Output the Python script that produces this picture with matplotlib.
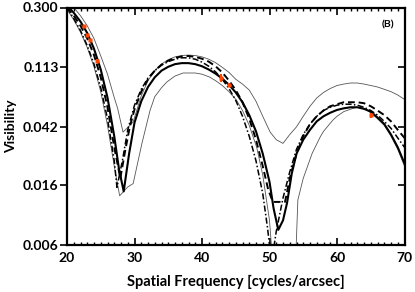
import numpy as np
import matplotlib
matplotlib.use("Agg")
import matplotlib.pyplot as plt
from matplotlib.ticker import FixedLocator, NullLocator, MultipleLocator

# model curves
x_solid = [20, 21, 22, 23, 24, 25, 26, 27, 27.7, 28.4, 29.2, 30, 31, 32, 33, 34, 35, 36, 37, 38,
           39, 40, 41, 42, 43, 44, 45, 46, 47, 48, 49, 50, 50.6, 51.3, 52, 52.6, 53.3, 54, 55, 56,
           57, 58, 59, 60, 61, 62, 63, 64, 65, 66, 67, 68, 69, 70]
v_solid = [0.31, 0.275, 0.238, 0.197, 0.152, 0.108, 0.068, 0.036, 0.021, 0.0145, 0.027, 0.045,
           0.064, 0.081, 0.095, 0.106, 0.113, 0.118, 0.120, 0.120, 0.118, 0.114, 0.108, 0.101,
           0.093, 0.084, 0.074, 0.063, 0.051, 0.039, 0.027, 0.017, 0.011, 0.0077, 0.009, 0.012,
           0.0195, 0.027, 0.034, 0.040, 0.046, 0.050, 0.053, 0.0555, 0.057, 0.058, 0.058, 0.0565,
           0.054, 0.049, 0.044, 0.037, 0.030, 0.023]

x_dash = [20, 21, 22, 23, 24, 25, 26, 27, 27.9, 28.6, 29.3, 30, 31, 32, 33, 34, 35, 36, 37, 38,
          39, 40, 41, 42, 43, 44, 45, 46, 47, 48, 49, 49.8, 50.5, 52.3, 53, 54, 55, 56, 57, 58,
          59, 60, 61, 62, 63, 64, 65, 66, 67, 68, 69, 70]
v_dash = [0.30, 0.262, 0.222, 0.18, 0.137, 0.095, 0.058, 0.030, 0.018, 0.028, 0.042, 0.056,
          0.075, 0.092, 0.106, 0.117, 0.125, 0.131, 0.134, 0.135, 0.133, 0.129, 0.123, 0.114,
          0.103, 0.090, 0.077, 0.063, 0.048, 0.034, 0.022, 0.015, 0.0122, 0.0122, 0.018, 0.027,
          0.036, 0.044, 0.050, 0.055, 0.059, 0.061, 0.063, 0.063, 0.063, 0.062, 0.059, 0.055,
          0.051, 0.046, 0.040, 0.035]

x_dd = [20, 21, 22, 23, 24, 25, 26, 27, 27.4, 28.2, 29, 30, 31, 32, 33, 34, 35, 36, 37, 38, 39,
        40, 41, 42, 43, 44, 45, 46, 47, 48, 49, 49.7, 50.3, 51, 52, 53, 54, 55, 56, 57, 58, 59,
        60, 61, 62, 63, 64, 65, 66, 67, 68, 69, 70]
v_dd = [0.30, 0.25, 0.205, 0.16, 0.118, 0.08, 0.048, 0.024, 0.0155, 0.024, 0.040, 0.060, 0.078,
        0.094, 0.106, 0.116, 0.123, 0.128, 0.131, 0.131, 0.128, 0.122, 0.114, 0.104, 0.092,
        0.079, 0.065, 0.050, 0.036, 0.024, 0.014, 0.008, 0.0045, 0.0075, 0.013, 0.020, 0.029,
        0.037, 0.044, 0.050, 0.055, 0.058, 0.060, 0.061, 0.061, 0.060, 0.058, 0.055, 0.051,
        0.046, 0.041, 0.035, 0.030]

# thin envelope curves
x_up = [20, 21, 22, 23, 24, 25, 26, 27, 27.5, 28.3, 29.8, 31, 32, 33, 34, 35, 36, 37, 38, 39,
        40, 41, 42, 43, 44, 45, 46, 47, 48, 49, 50.1, 51, 52, 53, 54, 55, 56, 57, 58, 59, 60,
        61, 62, 63, 64, 65, 66, 67, 68, 69, 70]
v_up = [0.33, 0.30, 0.262, 0.222, 0.18, 0.135, 0.100, 0.068, 0.057, 0.0385, 0.0455, 0.07, 0.09,
        0.106, 0.118, 0.127, 0.133, 0.136, 0.137, 0.136, 0.133, 0.128, 0.121, 0.112, 0.103,
        0.092, 0.085, 0.077, 0.064, 0.050, 0.0385, 0.034, 0.032, 0.037, 0.042, 0.050, 0.059,
        0.0676, 0.074, 0.079, 0.083, 0.085, 0.0865, 0.0865, 0.085, 0.083, 0.081, 0.078, 0.075,
        0.071, 0.066]

x_low = [20, 21, 22, 23, 24, 25, 26, 27, 27.8, 29.0, 29.8, 31.1, 32.3, 33, 34, 34.8, 36, 37.2,
         39, 40, 41.1, 42, 43, 44, 45.1, 46, 47, 48.1, 49, 50, 50.4, 53.9, 54.2, 55, 56.3, 57.5,
         58, 59.4, 60, 61, 62.4, 63, 64, 65, 66, 67, 68, 69, 70]
v_low = [0.29, 0.245, 0.20, 0.155, 0.113, 0.075, 0.043, 0.022, 0.0135, 0.0156, 0.0165, 0.032,
         0.055, 0.069, 0.080, 0.088, 0.097, 0.102, 0.102, 0.100, 0.0955, 0.090, 0.083, 0.075,
         0.0653, 0.055, 0.043, 0.030, 0.019, 0.009, 0.005, 0.005, 0.0126, 0.018, 0.027, 0.0355,
         0.039, 0.047, 0.050, 0.054, 0.057, 0.058, 0.057, 0.053, 0.048, 0.043, 0.036, 0.029,
         0.022]

# measured points
x_obs = [22.5, 23.0, 23.4, 24.5, 42.8, 44.0, 65.0]
v_obs = [0.22, 0.19, 0.175, 0.125, 0.094, 0.084, 0.051]
e_obs = [0.004, 0.004, 0.004, 0.003, 0.006, 0.003, 0.002]

yticks = [0.300, 0.113, 0.042, 0.016, 0.006]
ytick_labels = ["0.300", "0.113", "0.042", "0.016", "0.006"]

plt.rcParams['font.family'] = ['Lato', 'DejaVu Sans']

fig = plt.figure(figsize=(4.15, 2.92), dpi=100)
ax = fig.add_axes([67/415, 1-245/292, (404.5-67)/415, (245-7.5)/292])

ax.plot(x_up, v_up, color='#555555', lw=0.6)
ax.plot(x_low, v_low, color='#555555', lw=0.6)
ax.plot(x_dd, v_dd, color='black', lw=1.1, dashes=(4, 1.5, 1, 1.5))
ax.plot(x_dash, v_dash, color='black', lw=1.4, dashes=(3.5, 2))
ax.plot(x_solid, v_solid, color='black', lw=1.5)
ax.errorbar(x_obs, v_obs, yerr=e_obs, fmt='s', color='#ff4500', ms=3.2, elinewidth=1.5,
            capsize=0, mec='none', zorder=5)

ax.set_yscale('log')
ax.set_xlim(20, 70)
ax.set_ylim(0.006, 0.300)
ax.yaxis.set_major_locator(FixedLocator(yticks))
ax.yaxis.set_minor_locator(NullLocator())
ax.set_yticklabels(ytick_labels)
ax.xaxis.set_major_locator(MultipleLocator(10))
ax.xaxis.set_minor_locator(MultipleLocator(1))

for s in ax.spines.values():
    s.set_linewidth(1.6)
ax.tick_params(axis='x', which='both', direction='in', top=True, width=1.2)
ax.tick_params(axis='x', which='major', length=5, pad=5)
ax.tick_params(axis='x', which='minor', length=2, width=1.0)
ax.tick_params(axis='y', which='major', direction='out', length=5, width=1.2, left=True,
               right=False, pad=1)
ax.tick_params(labelsize=10)
for lab in ax.get_xticklabels() + ax.get_yticklabels():
    lab.set_fontweight('bold')

# inward ticks on the right side
ax2 = ax.twinx()
ax2.set_yscale('log')
ax2.set_ylim(ax.get_ylim())
ax2.yaxis.set_major_locator(FixedLocator(yticks))
ax2.yaxis.set_minor_locator(NullLocator())
ax2.tick_params(axis='y', direction='in', length=5, width=1.2, labelright=False)
for s in ax2.spines.values():
    s.set_visible(False)

ax.set_xlabel('Spatial Frequency [cycles/arcsec]', fontsize=10.5, fontweight='bold')
ax.set_ylabel('Visibility', fontsize=10, fontweight='bold')
ax.xaxis.set_label_coords(0.5, -0.125)
ax.yaxis.set_label_coords(-0.148, 0.5)
ax.text(0.95, 0.928, '(B)', transform=ax.transAxes, fontsize=7.5, fontweight='bold',
        ha='center', va='center')

fig.savefig('out.png', dpi=100)
